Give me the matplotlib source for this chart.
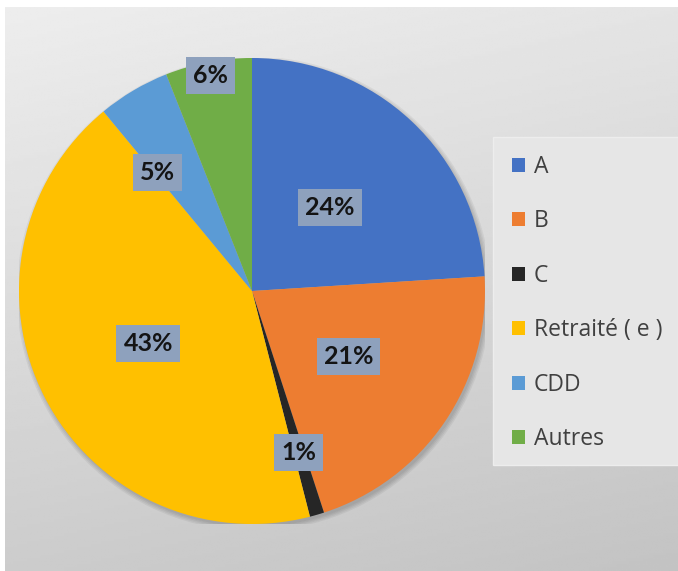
import numpy as np
import matplotlib
matplotlib.use("Agg")
import matplotlib.pyplot as plt
from matplotlib.patches import Patch, Rectangle, Circle

# data
categories = ["A", "B", "C", "Retraité ( e )", "CDD", "Autres"]
values = [24, 21, 1, 43, 5, 6]
colors = ["#4472c4", "#ed7d31", "#262626", "#ffc000", "#5b9bd5", "#70ad47"]

# where each % box sits: fraction of the radius, and turn off the mid-angle (deg)
label_radius = [0.49, 0.50, 0.72, 0.50, 0.65, 0.94]
label_shift = [0, 0, 0, 0, 8, 0]

plt.rcParams["font.family"] = ["Open Sans", "DejaVu Sans"]

W, H = 678, 571
fig = plt.figure(figsize=(W / 100, H / 100), dpi=100)
fig.patch.set_facecolor("white")

# grey gradient background of the chart area
bg = fig.add_axes([5 / W, 0, 1 - 5 / W, (H - 7) / H])
ty = np.linspace(0, 1, 200)[:, None]
tx = np.linspace(0, 1, 200)[None, :]
grad = 0.93 - 0.13 * ty - 0.035 * tx
bg.imshow(grad, cmap="gray", vmin=0, vmax=1, aspect="auto", extent=[0, 1, 1, 0])
bg.axis("off")

# legend panel
fig.patches.append(Rectangle((493 / W, 1 - 465 / H), (W - 493) / W, (465 - 137) / H,
                             transform=fig.transFigure, facecolor="#e6e6e6",
                             edgecolor="#ededed", linewidth=1, zorder=0.5))

# pie axes: centre (252, 291) px, radius 233 px
cx, cy, r = 252, 291, 233
ax = fig.add_axes([(cx - r) / W, (H - cy - r) / H, 2 * r / W, 2 * r / H])
# soft shadow under the pie
for k in range(4):
    ax.add_patch(Circle((0.008, -0.012), 1.0 + 0.006 * k, facecolor="black",
                        alpha=0.05, edgecolor="none", zorder=0))
wedges, _ = ax.pie(values, colors=colors, startangle=90, counterclock=False,
                   wedgeprops=dict(linewidth=0))
ax.set_xlim(-1, 1)
ax.set_ylim(-1, 1)
ax.set_aspect("equal")
ax.axis("off")

for w, v, lr, sh in zip(wedges, values, label_radius, label_shift):
    mid = np.deg2rad((w.theta1 + w.theta2) / 2 + sh)
    ax.text(lr * np.cos(mid), lr * np.sin(mid), f"{v}%", ha="center", va="center",
            fontsize=18, fontweight="bold", color="#141414", family=["Lato", "DejaVu Sans"],
            bbox=dict(boxstyle="square,pad=0.28", facecolor="#8ea1bd", edgecolor="none"))

handles = [Patch(facecolor=c, edgecolor="none") for c in colors]
leg = fig.legend(handles, categories, loc="upper left",
                 bbox_to_anchor=(512 / W, 1 - 155 / H), fontsize=16.5,
                 frameon=False, labelspacing=1.33, handlelength=0.55, handleheight=0.55,
                 handletextpad=0.4, borderpad=0, borderaxespad=0)
for t in leg.get_texts():
    t.set_color("#404040")

fig.savefig("out.png", dpi=100)
